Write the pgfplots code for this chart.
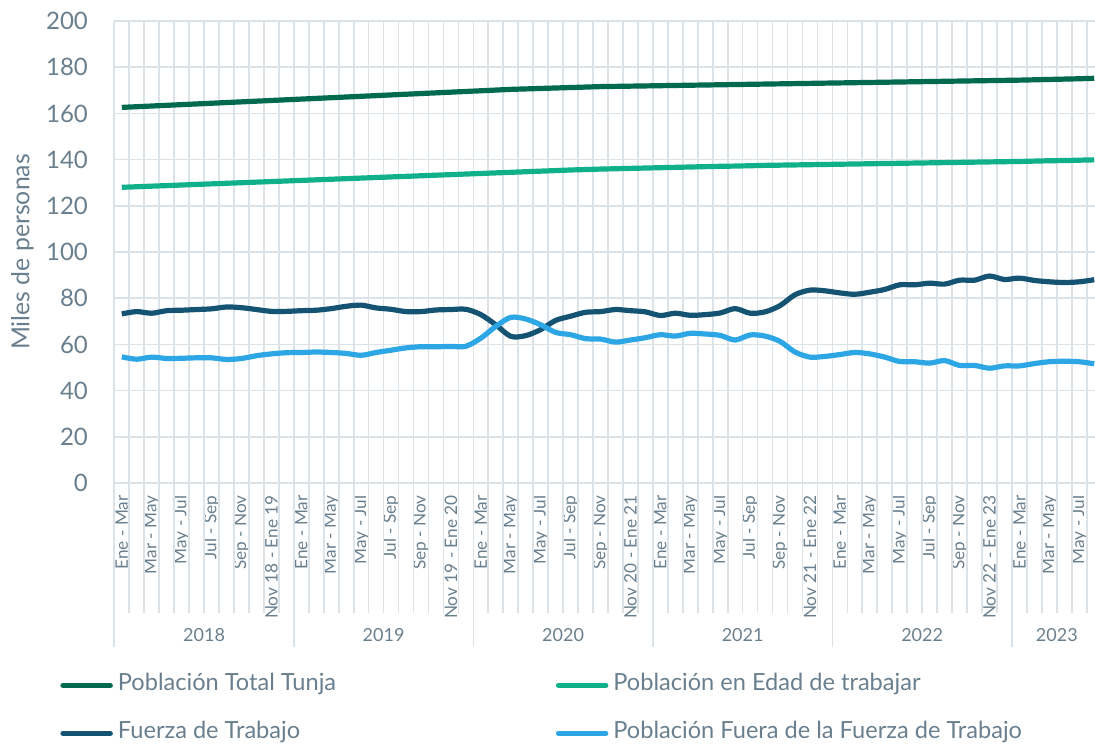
\documentclass[border=0pt]{standalone}
\usepackage{fontspec}
\setmainfont{Lato}
\usepackage{pgfplots}
\usepackage{pgfplotstable}
\pgfplotsset{compat=1.18}

\definecolor{totalc}{HTML}{006A4E}
\definecolor{edadc}{HTML}{10B08A}
\definecolor{fuerzac}{HTML}{145372}
\definecolor{fuerac}{HTML}{2CA6E4}
\definecolor{gridc}{HTML}{DCE3E8}
\definecolor{textc}{HTML}{6A7F8E}

% trimestres moviles, Ene-Mar 2018 ... Jun-Ago 2023
\pgfplotstableread{
i total edad fuerza fuera
0 162.6 128.0 73.2 54.6
1 162.9 128.25 74.2 53.6
2 163.2 128.5 73.5 54.5
3 163.5 128.75 74.6 53.9
4 163.8 129.0 74.8 54.0
5 164.1 129.25 75.1 54.2
6 164.4 129.5 75.4 54.2
7 164.7 129.75 76.2 53.5
8 165.0 130.0 75.9 53.9
9 165.3 130.25 75.1 55.1
10 165.6 130.5 74.3 55.9
11 165.9 130.75 74.3 56.4
12 166.2 131.0 74.6 56.5
13 166.5 131.25 74.8 56.7
14 166.8 131.5 75.5 56.5
15 167.1 131.75 76.5 56.1
16 167.4 132.0 77.0 55.3
17 167.7 132.25 75.8 56.5
18 168.0 132.5 75.2 57.5
19 168.3 132.75 74.2 58.5
20 168.6 133.0 74.2 59.0
21 168.9 133.25 74.9 59.0
22 169.2 133.5 75.1 59.1
23 169.5 133.75 75.2 59.2
24 169.8 134.0 72.9 62.7
25 170.1 134.25 68.5 67.8
26 170.4 134.5 63.5 71.7
27 170.6 134.75 63.8 71.0
28 170.8 135.0 66.4 68.5
29 171.0 135.25 70.4 65.2
30 171.2 135.5 72.2 64.2
31 171.4 135.7 73.9 62.5
32 171.6 135.9 74.2 62.3
33 171.7 136.05 75.1 61.0
34 171.8 136.2 74.6 61.9
35 171.9 136.35 74.1 62.9
36 172.0 136.5 72.5 64.2
37 172.1 136.65 73.5 63.6
38 172.2 136.8 72.6 64.8
39 172.3 136.95 72.9 64.5
40 172.4 137.1 73.6 63.9
41 172.5 137.2 75.5 61.9
42 172.6 137.35 73.5 64.1
43 172.7 137.5 74.1 63.6
44 172.8 137.6 76.8 61.3
45 172.9 137.7 81.5 56.7
46 173.0 137.8 83.5 54.5
47 173.1 137.9 83.2 54.8
48 173.2 138.0 82.3 55.6
49 173.3 138.1 81.7 56.5
50 173.4 138.2 82.6 55.9
51 173.5 138.3 83.8 54.5
52 173.6 138.4 85.8 52.6
53 173.7 138.5 85.8 52.5
54 173.8 138.6 86.5 51.9
55 173.9 138.7 86.1 53.0
56 174.0 138.8 87.8 50.9
57 174.1 138.9 87.8 50.9
58 174.2 139.0 89.6 49.7
59 174.3 139.1 88.1 50.7
60 174.4 139.2 88.7 50.7
61 174.55 139.35 87.7 51.7
62 174.7 139.5 87.1 52.5
63 174.85 139.6 86.8 52.7
64 175.0 139.75 87.1 52.5
65 175.2 139.9 88.0 51.6
}\datos

\begin{document}
\begin{tikzpicture}
\begin{axis}[
  name=ax, at={(0,0)}, anchor=south west,
  scale only axis, width=493.7pt, height=231pt,
  xmin=-0.5, xmax=65.5, ymin=0, ymax=200,
  clip=false,
  axis line style={draw=none},
  major tick length=0pt, minor tick length=0pt,
  ytick={0,20,...,200},
  ymajorgrids, grid style={gridc, line width=0.85pt},
  xtick={0,2,...,64},
  xticklabels={Ene - Mar,Mar - May,May - Jul,Jul - Sep,Sep - Nov,Nov 18 - Ene 19,
    Ene - Mar,Mar - May,May - Jul,Jul - Sep,Sep - Nov,Nov 19 - Ene 20,
    Ene - Mar,Mar - May,May - Jul,Jul - Sep,Sep - Nov,Nov 20 - Ene 21,
    Ene - Mar,Mar - May,May - Jul,Jul - Sep,Sep - Nov,Nov 21 - Ene 22,
    Ene - Mar,Mar - May,May - Jul,Jul - Sep,Sep - Nov,Nov 22 - Ene 23,
    Ene - Mar,Mar - May,May - Jul},
  minor xtick={0.5,1.5,...,64.5},
  xminorgrids, minor grid style={gridc, line width=0.85pt},
  /pgf/number format/assume math mode=true,
  tick label style={text=textc},
  yticklabel style={font=\fontsize{12}{14}\selectfont, anchor=east, inner sep=0pt, xshift=-13pt},
  xticklabel style={font=\fontsize{8.6}{10}\selectfont, yshift=-6pt, rotate=90, anchor=east, inner sep=0pt},
  ylabel={Miles de personas},
  ylabel style={at={(rel axis cs:-0.0932,0.5)}, anchor=center, font=\fontsize{12.4}{14}\selectfont, text=textc},
  legend columns=2,
  legend cell align=left,
  legend style={at={(rel axis cs:0,0)}, anchor=north west, xshift=-27.15pt, yshift=-95.75pt,
    draw=none, fill=none, inner sep=0pt, row sep=13.5pt,
    font=\fontsize{11.8}{13}\selectfont, text=textc,
    nodes={inner sep=0pt, text height=8pt, text depth=2.5pt},
    /tikz/every odd column/.append style={column sep=2.5pt}},
  legend image code/.code={\draw[line width=2.5pt, line cap=round] (1.25pt,0pt) -- (25pt,0pt);},
  every axis plot/.append style={line width=2.6pt, line join=round, smooth},
]
% lineas de categoria y de anio por debajo del eje
\pgfplotsinvokeforeach{0,...,64}{\draw[gridc, line width=0.85pt] (axis cs:#1.5,0) -- ++(0pt,-65pt);}
\pgfplotsinvokeforeach{-0.5,11.5,23.5,35.5,47.5,59.5}{\draw[gridc, line width=0.85pt] (axis cs:#1,0) -- ++(0pt,-82pt);}
\draw[gridc, line width=0.85pt] (axis cs:-0.5,200) -- (axis cs:-0.5,0);
\pgfplotsinvokeforeach{2018,2019,2020,2021,2022}{%
  \node[textc, font=\fontsize{9}{11}\selectfont] at ([yshift=-76pt]axis cs:{(#1-2018)*12+5.5},0) {#1};}
\node[textc, font=\fontsize{9}{11}\selectfont] at ([yshift=-76pt]axis cs:62.5,0) {2023};

\addplot[totalc] table[x=i, y=total] {\datos};
\addlegendentry{\makebox[219pt][l]{Población Total Tunja}}
\addplot[edadc] table[x=i, y=edad] {\datos};
\addlegendentry{Población en Edad de trabajar}
\addplot[fuerzac] table[x=i, y=fuerza] {\datos};
\addlegendentry{\makebox[219pt][l]{Fuerza de Trabajo}}
\addplot[fuerac] table[x=i, y=fuera] {\datos};
\addlegendentry{Población Fuera de la Fuerza de Trabajo}
\end{axis}
\pgfresetboundingbox
\path[use as bounding box] ([shift={(-57.15pt,-131.5pt)}]ax.south west) rectangle ([shift={(490.35pt,241.5pt)}]ax.south west);
\end{tikzpicture}
\end{document}
